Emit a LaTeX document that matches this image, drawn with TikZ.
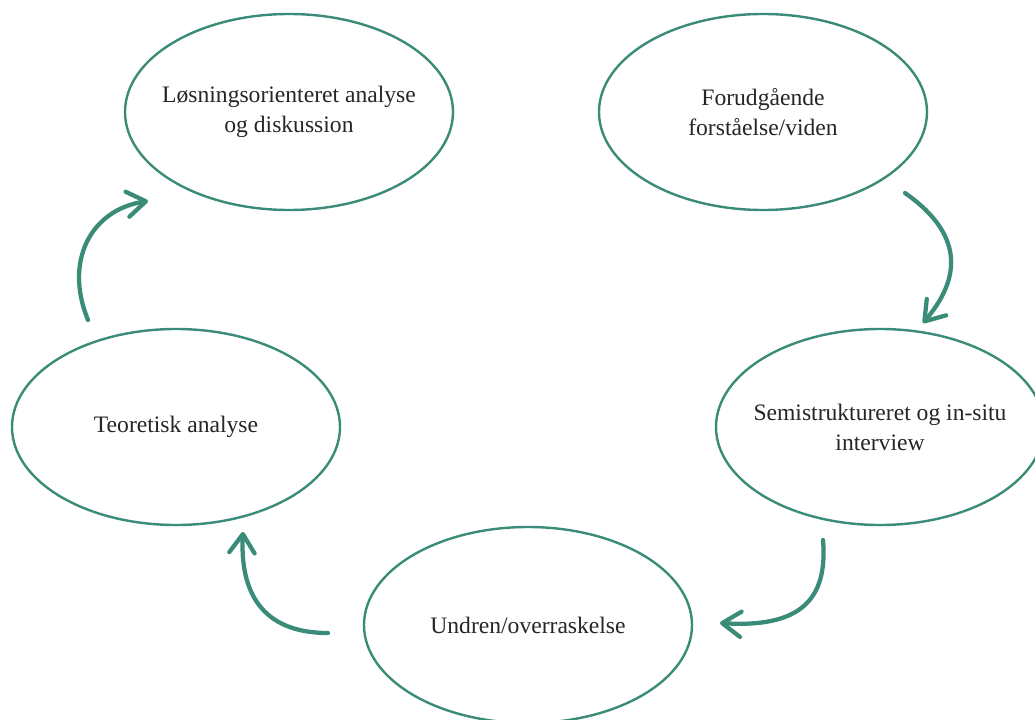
\documentclass[tikz,border=0pt]{standalone}
\usepackage{fontspec}
\setmainfont{Liberation Serif}
\usetikzlibrary{shapes.geometric,arrows.meta}
\definecolor{teal}{RGB}{58,139,120}
\begin{document}
\begin{tikzpicture}[x=0.75pt,y=-0.75pt,
  stage/.style={ellipse,draw=teal,line width=1.8pt,minimum width=246pt,
    minimum height=147pt,inner sep=0pt},
  stagetext/.style={align=center,text=black!85,inner sep=0pt,
    font=\fontsize{17.7pt}{22.5pt}\selectfont},
  flow/.style={draw=teal,line width=3.2pt,line cap=round,
    -{Straight Barb[length=14pt,width=19pt,line cap=round,round]}}]
  \useasboundingbox (0,0) rectangle (1035,720);
  \fill[white] (0,0) rectangle (1035,720);
  \clip (0,0) rectangle (1035,720);

  % stages of the cycle
  \node[stage,label={[stagetext]center:Løsningsorienteret analyse\\og diskussion}] (los) at (289,112) {};
  \node[stage,label={[stagetext]center:Forudgående\\forståelse/viden}] (for) at (763,112) {};
  \node[stage,label={[stagetext]center:Semistruktureret og in-situ\\interview}] (sem) at (880,427) {};
  \node[stage,label={[stagetext]center:Undren/overraskelse}] (und) at (528,625) {};
  \node[stage,label={[stagetext]center:Teoretisk analyse}] (teo) at (176,427) {};

  % end points of the curved arrows
  \coordinate (a1s) at (88,320);  \coordinate (a1e) at (148,201);
  \coordinate (a2s) at (905,193); \coordinate (a2e) at (923,323);
  \coordinate (a3s) at (823,540); \coordinate (a3e) at (720,623);
  \coordinate (a4s) at (328,633); \coordinate (a4e) at (243,532);

  \draw[flow] (a1s) .. controls (64,262) and (90,210) .. (a1e);
  \draw[flow] (a2s) .. controls (955,228) and (968,270) .. (a2e);
  \draw[flow] (a3s) .. controls (828,600) and (800,628) .. (a3e);
  \draw[flow] (a4s) .. controls (260,633) and (240,590) .. (a4e);
\end{tikzpicture}
\end{document}
